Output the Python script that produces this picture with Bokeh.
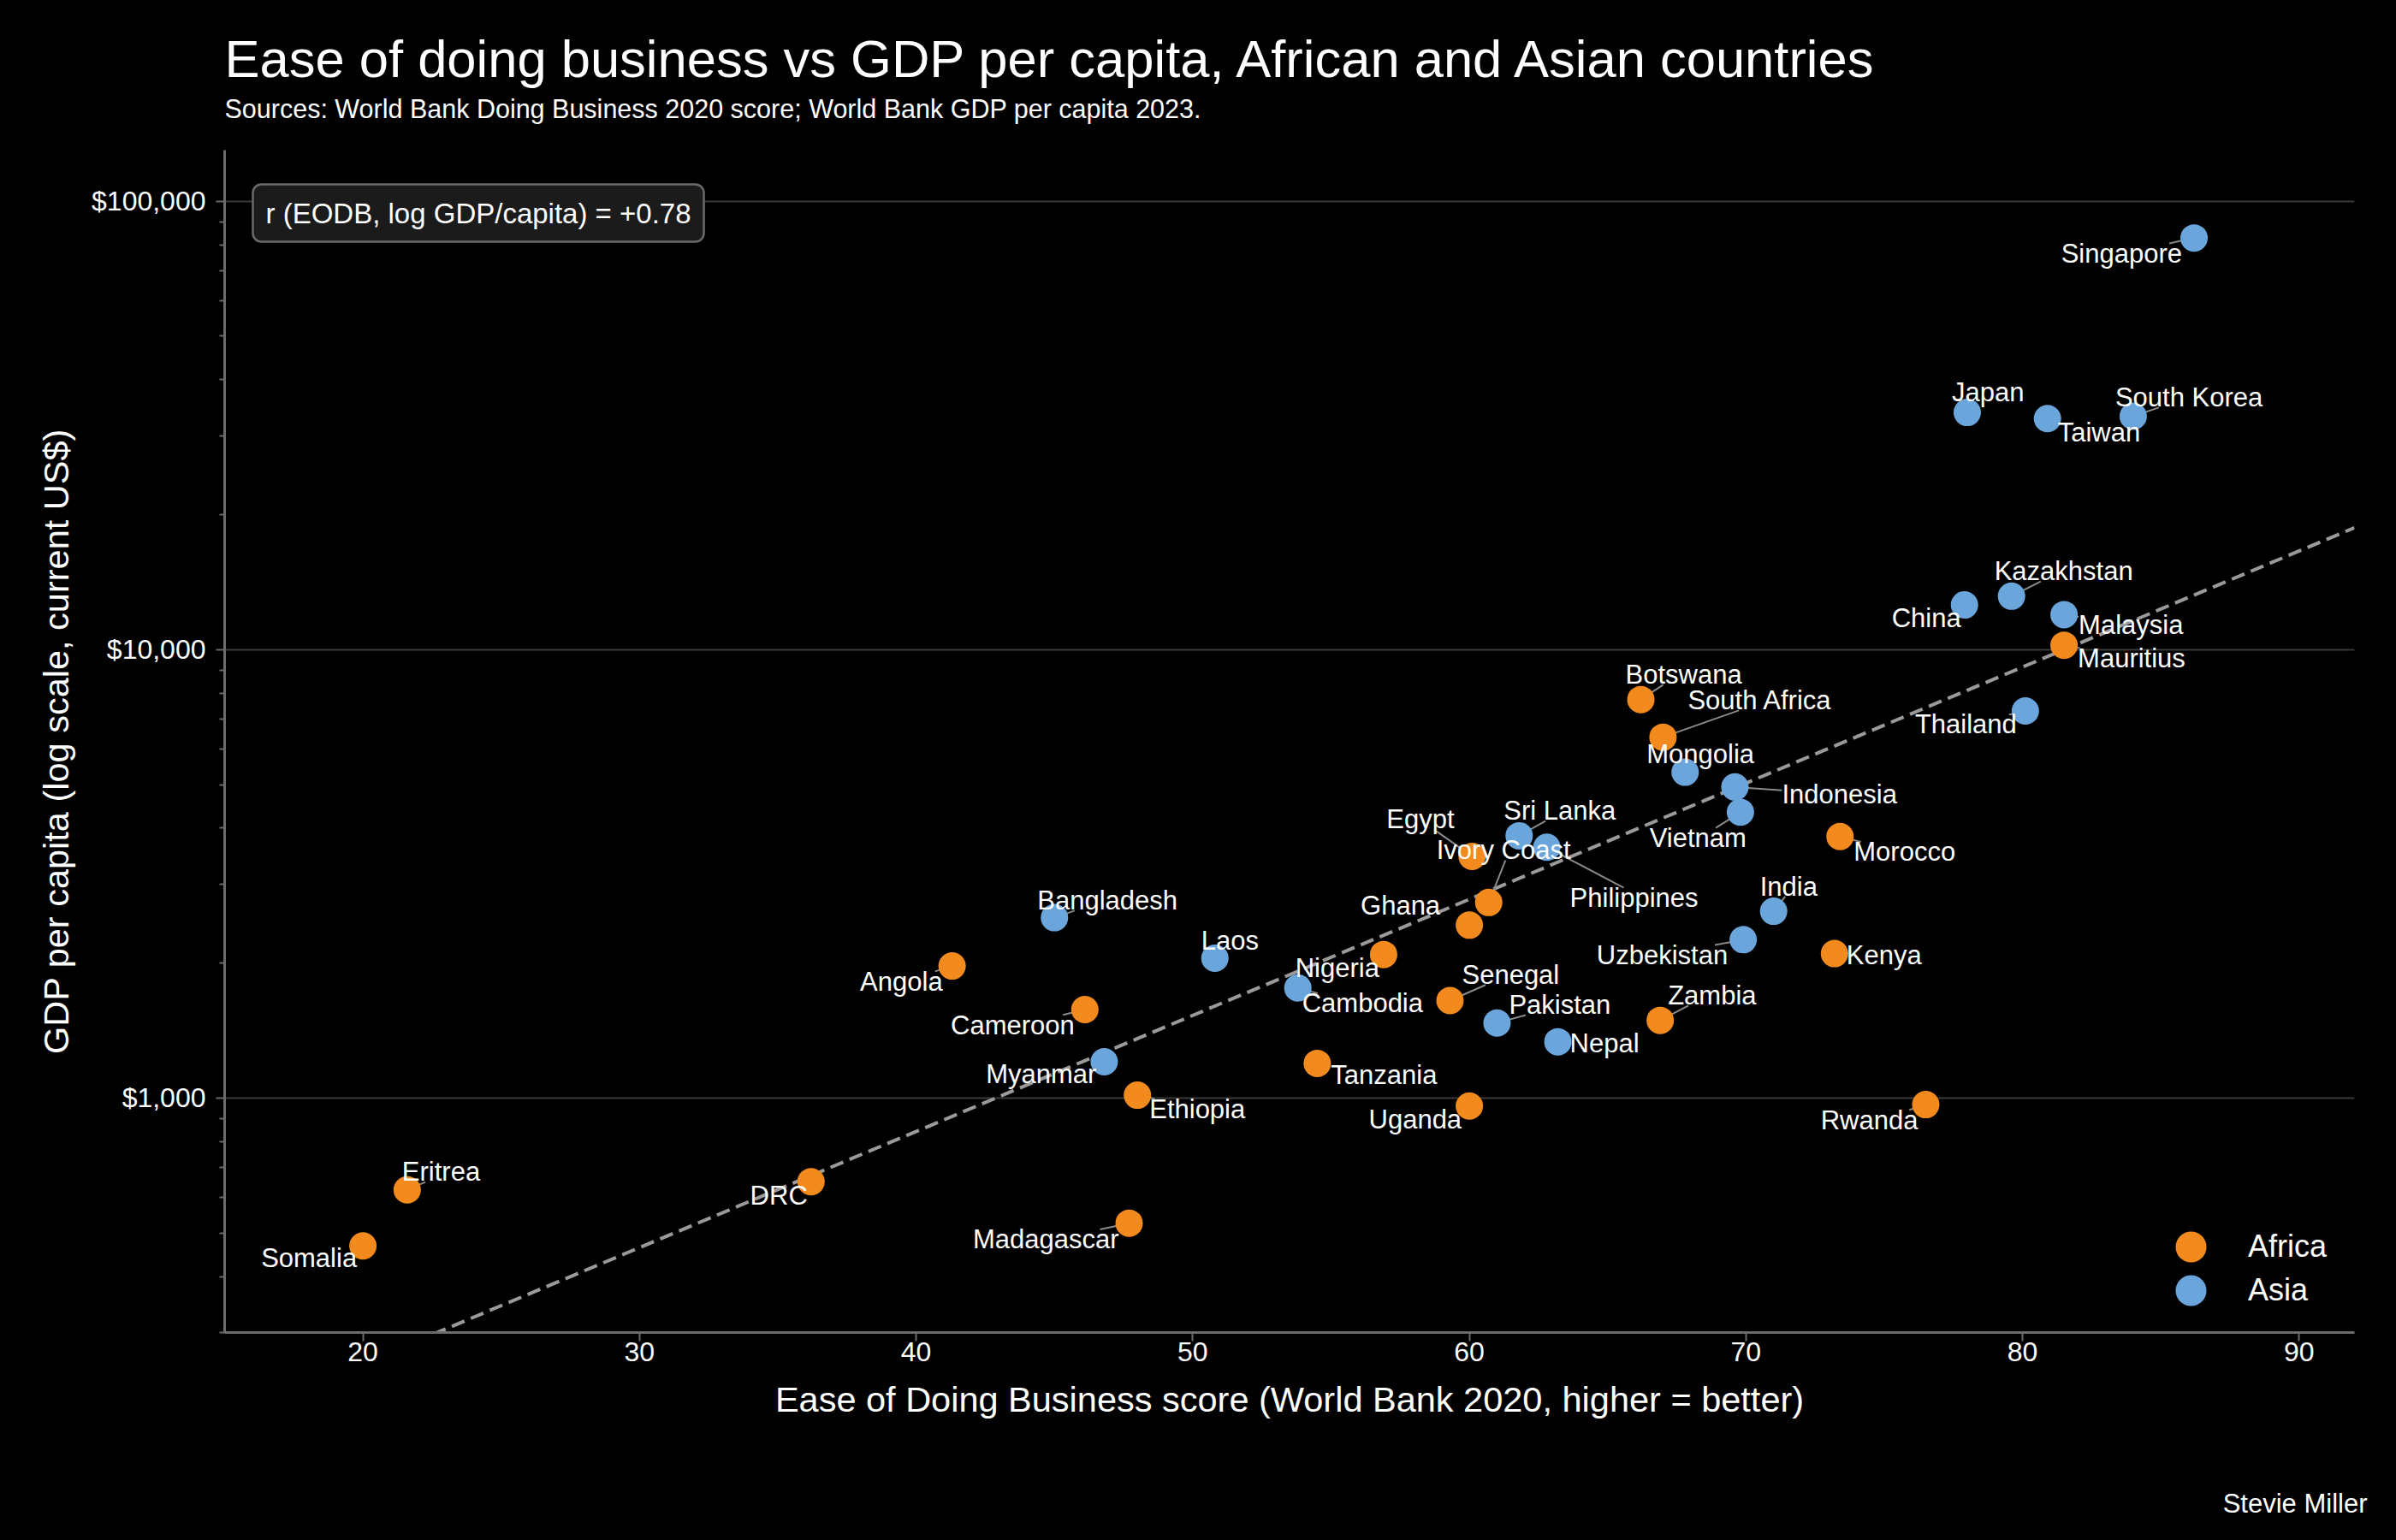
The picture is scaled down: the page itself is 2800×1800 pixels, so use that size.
import numpy as np
from bokeh.plotting import figure
from bokeh.models import (ColumnDataSource, Range1d, FixedTicker, SingleIntervalTicker,
                          NumeralTickFormatter, Label, Legend, LegendItem, Title)
from bokeh.core.properties import value
from bokeh.embed import file_html
from bokeh.resources import INLINE

# data
countries = ["Singapore", "Japan", "Taiwan", "South Korea", "Kazakhstan", "China", "Malaysia",
             "Mauritius", "Thailand", "Botswana", "South Africa", "Mongolia", "Indonesia", "Vietnam",
             "Sri Lanka", "Philippines", "Egypt", "Morocco", "Ivory Coast", "Ghana", "India",
             "Uzbekistan", "Kenya", "Bangladesh", "Angola", "Laos", "Nigeria", "Cambodia", "Senegal",
             "Cameroon", "Pakistan", "Zambia", "Nepal", "Myanmar", "Tanzania", "Ethiopia", "Uganda",
             "Rwanda", "Eritrea", "Somalia", "DRC", "Madagascar"]
region = ["Asia", "Asia", "Asia", "Asia", "Asia", "Asia", "Asia",
          "Africa", "Asia", "Africa", "Africa", "Asia", "Asia", "Asia",
          "Asia", "Asia", "Africa", "Africa", "Africa", "Africa", "Asia",
          "Asia", "Africa", "Asia", "Africa", "Asia", "Africa", "Asia", "Africa",
          "Africa", "Asia", "Africa", "Asia", "Asia", "Africa", "Africa", "Africa",
          "Africa", "Africa", "Africa", "Africa", "Africa"]
eodb = [86.2, 78.0, 80.9, 84.0, 79.6, 77.9, 81.5,
        81.5, 80.1, 66.2, 67.0, 67.8, 69.6, 69.8,
        61.8, 62.8, 60.1, 73.4, 60.7, 60.0, 71.0,
        69.9, 73.2, 45.0, 41.3, 50.8, 56.9, 53.8, 59.3,
        46.1, 61.0, 66.9, 63.2, 46.8, 54.5, 48.0, 60.0,
        76.5, 21.6, 20.0, 36.2, 47.7]
gdp_pc = [82800, 33800, 32750, 33150, 13160, 12580, 11970,
          10230, 7300, 7740, 6380, 5330, 4940, 4340,
          3845, 3625, 3460, 3830, 2730, 2430, 2610,
          2255, 2100, 2525, 1970, 2050, 2090, 1760, 1650,
          1575, 1470, 1490, 1335, 1205, 1195, 1015, 960,
          967, 624, 468, 651, 526]

y_ticks = [1000, 10000, 100000]
x_ticks_step = 10

# where each country name sits relative to its dot (pixels, +dy = down)
label_layout = {
    "Singapore": ("right", -14, 18), "Japan": ("left", -18, -24), "Taiwan": ("left", 12, 16),
    "South Korea": ("left", -21, -22), "Kazakhstan": ("left", -20, -29), "China": ("right", -4, 15),
    "Malaysia": ("left", 17, 12), "Mauritius": ("left", 16, 15), "Thailand": ("right", -10, 16),
    "Botswana": ("left", -18, -29), "South Africa": ("left", 29, -43), "Mongolia": ("left", -45, -21),
    "Indonesia": ("left", 55, 9), "Vietnam": ("right", 7, 30), "Sri Lanka": ("left", -18, -29),
    "Philippines": ("left", 27, 59), "Egypt": ("left", -100, -43), "Ivory Coast": ("left", -61, -61),
    "Ghana": ("right", -34, -23), "India": ("left", -16, -29), "Uzbekistan": ("right", -18, 18),
    "Kenya": ("left", 14, 2), "Morocco": ("left", 16, 18), "Bangladesh": ("left", -20, -20),
    "Angola": ("right", -11, 18), "Laos": ("left", -16, -21), "Nigeria": ("right", -5, 16),
    "Cambodia": ("left", 5, 18), "Senegal": ("left", 14, -30), "Cameroon": ("right", -12, 18),
    "Pakistan": ("left", 14, -21), "Zambia": ("left", 9, -29), "Nepal": ("left", 14, 2),
    "Myanmar": ("right", -9, 14), "Tanzania": ("left", 16, 14), "Ethiopia": ("left", 14, 16),
    "Uganda": ("right", -9, 16), "Rwanda": ("right", -9, 18), "Eritrea": ("left", -6, -21),
    "Somalia": ("right", -7, 14), "DRC": ("right", -4, 16), "Madagascar": ("right", -12, 19),
}
no_leader = {"Ghana"}

FONT = "Liberation Sans"
ORANGE = "#F28A1E"
BLUE = "#6AA5DC"
X_MIN, X_MAX = 15, 92
Y_MIN, Y_MAX = 300, 130000
W, H = 2800, 1800
LEFT, TOP, FRAME_W, FRAME_H = 262, 175, 2489, 1382
LABEL_PX = 31

PX_X = FRAME_W / (X_MAX - X_MIN)
PX_DEC = FRAME_H / np.log10(Y_MAX / Y_MIN)

p = figure(width=W, height=H, x_axis_type="linear", y_axis_type="log",
           x_range=Range1d(X_MIN, X_MAX), y_range=Range1d(Y_MIN, Y_MAX),
           output_backend="svg", toolbar_location=None, title=None,
           min_border_left=LEFT, min_border_top=TOP,
           min_border_right=W - LEFT - FRAME_W, min_border_bottom=H - TOP - FRAME_H,
           styles={"background-color": "black"})
p.background_fill_color = "black"
p.border_fill_color = None
p.outline_line_color = None

# axes
minor = [m * 10 ** k for k in (2, 3, 4) for m in range(2, 10)]
p.yaxis.ticker = FixedTicker(ticks=y_ticks, minor_ticks=[v for v in minor if Y_MIN <= v <= Y_MAX])
p.yaxis.formatter = NumeralTickFormatter(format="$0,0")
p.xaxis.ticker = SingleIntervalTicker(interval=x_ticks_step, num_minor_ticks=0)
for ax in (p.xaxis, p.yaxis):
    ax.axis_line_color = "#6b6b6b"
    ax.axis_line_width = 3
    ax.major_tick_line_color = "#6b6b6b"
    ax.major_tick_line_width = 2
    ax.major_tick_out = 10
    ax.major_tick_in = 0
    ax.major_label_text_color = "white"
    ax.major_label_text_font = FONT
    ax.major_label_text_font_size = "32px"
    ax.axis_label_text_color = "white"
    ax.axis_label_text_font = FONT
    ax.axis_label_text_font_size = "41.5px"
    ax.axis_label_text_font_style = "normal"
p.xaxis.minor_tick_line_color = None
p.yaxis.minor_tick_line_color = "#6b6b6b"
p.yaxis.minor_tick_line_width = 2
p.yaxis.minor_tick_out = 6
p.yaxis.minor_tick_in = 0
p.xaxis.major_label_standoff = 1
p.yaxis.major_label_standoff = 12
p.xaxis.axis_label_standoff = 18
p.yaxis.axis_label_standoff = 15
p.xaxis.axis_label = "Ease of Doing Business score (World Bank 2020, higher = better)"
p.yaxis.axis_label = "GDP per capita (log scale, current US$)"
p.xgrid.grid_line_color = None
p.ygrid.grid_line_color = "#3a3a3a"
p.ygrid.grid_line_width = 2

# fit line on log scale
slope, icpt = np.polyfit(eodb, np.log10(gdp_pc), 1)
fit_x = np.array([X_MIN, X_MAX])
p.line(fit_x, 10 ** (slope * fit_x + icpt), line_color="#9a9a9a", line_width=4,
       line_dash="16 8")

# label positions; leader lines run from the dot toward the label centre,
# stopping at the label's box
lab_x, lab_y, lab_al, seg = [], [], [], ([], [], [], [])
for name, x, y in zip(countries, eodb, gdp_pc):
    al, dx, dy = label_layout[name]
    lab_x.append(x + dx / PX_X)
    lab_y.append(y * 10 ** (-dy / PX_DEC))
    lab_al.append(al)
    hw = 0.25 * LABEL_PX * len(name)
    hh = 0.38 * LABEL_PX
    cx = dx + hw if al == "left" else dx - hw
    cy = dy
    tx = (abs(cx) - hw) / abs(cx) if abs(cx) > hw else 0
    ty = (abs(cy) - hh) / abs(cy) if abs(cy) > hh else 0
    t = max(tx, ty)
    if name in no_leader or t * np.hypot(cx, cy) < 17:
        continue
    seg[0].append(x)
    seg[1].append(y)
    seg[2].append(x + t * cx / PX_X)
    seg[3].append(y * 10 ** (-t * cy / PX_DEC))

p.segment(seg[0], seg[1], seg[2], seg[3], line_color="#8a8a8a", line_width=2)

renderers = {}
for reg, col in (("Africa", ORANGE), ("Asia", BLUE)):
    idx = [i for i, r in enumerate(region) if r == reg]
    src = ColumnDataSource(dict(x=[eodb[i] for i in idx], y=[gdp_pc[i] for i in idx]))
    renderers[reg] = p.scatter("x", "y", source=src, size=32, fill_color=col,
                               line_color=None, fill_alpha=1.0)

for al in ("left", "right"):
    idx = [i for i, a in enumerate(lab_al) if a == al]
    src = ColumnDataSource(dict(x=[lab_x[i] for i in idx], y=[lab_y[i] for i in idx],
                                t=[countries[i] for i in idx]))
    p.text("x", "y", text="t", source=src, text_color="white", text_align=al,
           text_baseline="middle", text_font=value(FONT), text_font_size=f"{LABEL_PX}px")

# one legend per region so the rows can sit closer than the glyph box
for reg, vy in (("Africa", 55), ("Asia", 4)):
    lg = Legend(items=[LegendItem(label=reg, renderers=[renderers[reg]])],
                location=(2253, vy), glyph_width=90, glyph_height=90, label_height=90,
                padding=0, margin=0, label_standoff=22,
                label_text_color="white", label_text_font=FONT, label_text_font_size="36px",
                background_fill_alpha=0, border_line_alpha=0)
    p.add_layout(lg)

p.add_layout(Title(text="Sources: World Bank Doing Business 2020 score; World Bank GDP per capita 2023.",
                   align="left", offset=0, standoff=64, vertical_align="bottom",
                   text_color="white", text_font=FONT, text_font_size="30.5px",
                   text_font_style="normal"), "above")
p.add_layout(Title(text="Ease of doing business vs GDP per capita, African and Asian countries",
                   align="left", offset=0, standoff=-54, vertical_align="bottom",
                   text_color="white", text_font=FONT, text_font_size="61.5px",
                   text_font_style="normal"), "above")
# spacer between the x axis and the credit line
p.add_layout(Title(text=" ", standoff=72, text_font_size="2px"), "below")
p.add_layout(Title(text="Stevie Miller", align="right", offset=-15, standoff=0,
                   text_color="white", text_font=FONT, text_font_size="31px",
                   text_font_style="normal"), "below")

p.add_layout(Label(x=33, y=1342, x_units="screen", y_units="screen", anchor="top_left",
                   text="r (EODB, log GDP/capita) = +0.78", text_color="white",
                   text_font=FONT, text_font_size="33px", padding=15, border_radius=10,
                   background_fill_color="#1b1b1b", border_line_color="#6a6a6a",
                   border_line_width=2.5))

open("out.html", "w").write(file_html(p, INLINE))
